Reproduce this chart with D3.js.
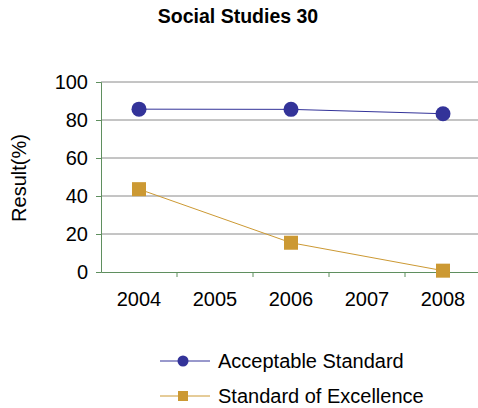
<!DOCTYPE html>
<html>
<head>
<meta charset="utf-8">
<script src="https://cdn.jsdelivr.net/npm/d3@7"></script>
<style>
  html, body { margin: 0; padding: 0; background: #fff; }
  svg { display: block; font-family: "Liberation Sans", Arial, sans-serif; }
</style>
</head>
<body>
<svg id="chart" width="478" height="408"></svg>
<script>
// Chart data
const years = ["2004", "2005", "2006", "2007", "2008"];
const acceptable = [
  { year: "2004", value: 85.7 },
  { year: "2006", value: 85.6 },
  { year: "2008", value: 83.3 }
];
const excellence = [
  { year: "2004", value: 43.6 },
  { year: "2006", value: 15.4 },
  { year: "2008", value: 0.7 }
];
const yTicks = [0, 20, 40, 60, 80, 100];
const seriesNames = ["Acceptable Standard", "Standard of Excellence"];

const svg = d3.select("#chart");
const plot = { left: 101, right: 481, top: 82, bottom: 272 };
const FONT = "Liberation Sans, Arial, sans-serif";

const x = d3.scaleBand().domain(years).range([plot.left, plot.right]).padding(0);
const y = d3.scaleLinear().domain([0, 100]).range([plot.bottom, plot.top]);

// Title
svg.append("text")
  .attr("x", 238).attr("y", 23)
  .attr("text-anchor", "middle")
  .attr("font-size", 19.5).attr("font-weight", "bold")
  .text("Social Studies 30");

// Horizontal gridlines
svg.append("g").selectAll("line").data(yTicks.filter(d => d > 0)).join("line")
  .attr("x1", plot.left).attr("x2", plot.right)
  .attr("y1", d => y(d)).attr("y2", d => y(d))
  .attr("stroke", "#8a8a8a").attr("stroke-width", 1);

// Y axis
const yAxis = svg.append("g")
  .attr("transform", `translate(${plot.left},0)`)
  .call(d3.axisLeft(y).tickValues(yTicks).tickSize(5).tickPadding(8));
yAxis.select(".domain").attr("stroke", "#5f8f5f");
yAxis.selectAll(".tick line").attr("stroke", "#5f8f5f");
yAxis.selectAll(".tick text")
  .attr("font-size", 20).attr("fill", "#000").attr("font-family", FONT);

// X axis
const xAxis = svg.append("g")
  .attr("transform", `translate(0,${plot.bottom})`)
  .call(d3.axisBottom(x).tickSize(0).tickPadding(20));
xAxis.select(".domain").attr("stroke", "#5f8f5f");
xAxis.selectAll(".tick text")
  .attr("font-size", 20).attr("fill", "#000").attr("font-family", FONT);
// Category boundary ticks
svg.append("g").selectAll("line").data(years.slice(1)).join("line")
  .attr("x1", d => x(d)).attr("x2", d => x(d))
  .attr("y1", plot.bottom).attr("y2", plot.bottom + 5)
  .attr("stroke", "#5f8f5f");

// Y axis title
svg.append("text")
  .attr("transform", "translate(26,178) rotate(-90)")
  .attr("text-anchor", "middle")
  .attr("font-size", 20)
  .text("Result(%)");

const cx = d => x(d.year) + x.bandwidth() / 2;
const line = d3.line().x(cx).y(d => y(d.value));

// Acceptable Standard series
svg.append("path").datum(acceptable)
  .attr("d", line).attr("fill", "none")
  .attr("stroke", "#333399").attr("stroke-width", 1);
svg.append("g").selectAll("circle").data(acceptable).join("circle")
  .attr("cx", cx).attr("cy", d => y(d.value)).attr("r", 7.5)
  .attr("fill", "#333399");

// Standard of Excellence series
svg.append("path").datum(excellence)
  .attr("d", line).attr("fill", "none")
  .attr("stroke", "#cc9933").attr("stroke-width", 1);
svg.append("g").selectAll("rect").data(excellence).join("rect")
  .attr("x", d => cx(d) - 7).attr("y", d => y(d.value) - 7)
  .attr("width", 14).attr("height", 14)
  .attr("fill", "#cc9933");

// Legend
const legend = svg.append("g");
const legendRows = [
  { name: seriesNames[0], color: "#333399", shape: "circle", y: 361 },
  { name: seriesNames[1], color: "#cc9933", shape: "square", y: 396 }
];
legendRows.forEach(r => {
  legend.append("line")
    .attr("x1", 160).attr("x2", 210).attr("y1", r.y).attr("y2", r.y)
    .attr("stroke", r.color).attr("stroke-width", 1);
  if (r.shape === "circle") {
    legend.append("circle").attr("cx", 183).attr("cy", r.y).attr("r", 5.5).attr("fill", r.color);
  } else {
    legend.append("rect").attr("x", 178).attr("y", r.y - 5).attr("width", 10).attr("height", 10).attr("fill", r.color);
  }
  legend.append("text")
    .attr("x", 218).attr("y", r.y + 7)
    .attr("font-size", 20)
    .text(r.name);
});
</script>
</body>
</html>
